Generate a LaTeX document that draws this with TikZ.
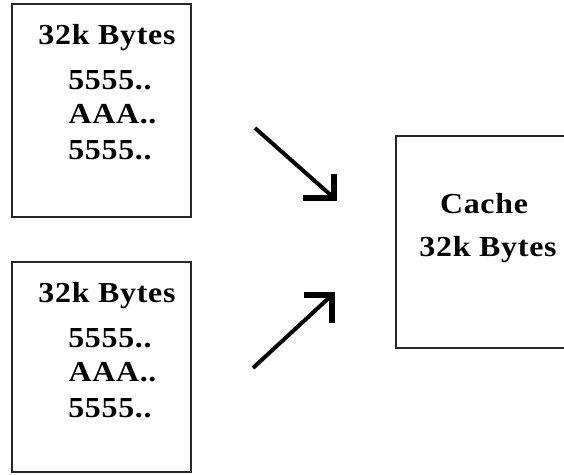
\documentclass[tikz,border=0pt]{standalone}
\usepackage{fontspec}
\setmainfont{Liberation Serif}[FakeStretch=1.1, LetterSpace=2.5]
\usepackage{tikz}

\begin{document}
\begin{tikzpicture}[x=1pt, y=-1pt,
  membox/.style={draw=black!85, line width=1.6pt, minimum width=179pt, inner sep=0pt},
  memtext/.style={anchor=base, inner sep=0pt, font=\fontsize{29}{32}\selectfont\bfseries},
  shaft/.style={line width=4pt},
  barb/.style={line width=6pt, line join=miter}]
\useasboundingbox (0,0) rectangle (564,474);
\node[membox, minimum height=213pt] (mem1) at (101.5,110.5) {};
\node[membox, minimum height=210pt] (mem2) at (101.5,367) {};
\node[membox, minimum width=204pt, minimum height=212pt] (cache) at (498,242) {};
\foreach \txt/\xx/\yy [count=\i] in {32k Bytes/107/44, 5555../110/89, AAA../112.5/123, 5555../110/159} {
  \node[memtext] (top\i) at (\xx,\yy) {\txt};
  \node[memtext] (bot\i) at (\xx,\yy+258) {\txt};
}
\node[memtext] (cachename) at (484,213) {Cache};
\node[memtext] (cachesize) at (488,256) {32k Bytes};
\coordinate (in1) at (255,128);
\coordinate (out1) at (334,198);
\coordinate (in2) at (253,368);
\coordinate (out2) at (332,295);
\draw[shaft] (in1) -- (out1);
\draw[barb] (out1) ++(-31,0) -- (out1) -- ++(0,-24);
\draw[shaft] (in2) -- (out2);
\draw[barb] (out2) ++(-28,0) -- (out2) -- ++(0,28);
\end{tikzpicture}
\end{document}
